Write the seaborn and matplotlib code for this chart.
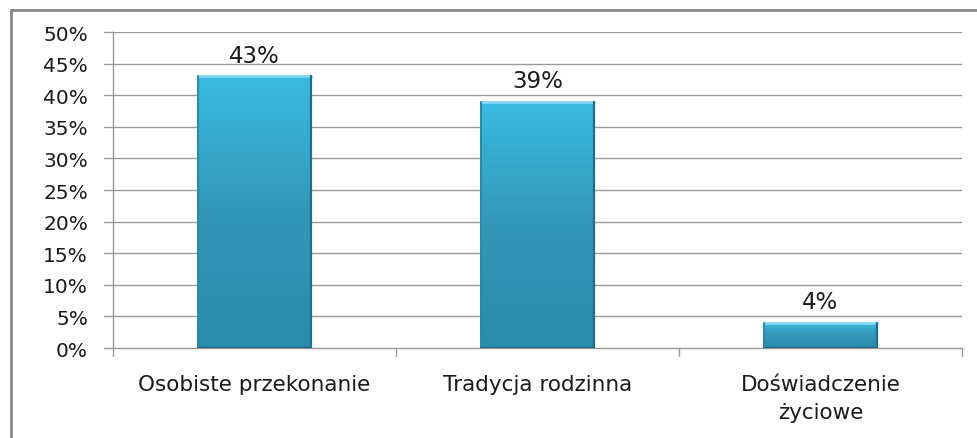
import numpy as np
import matplotlib
matplotlib.use("Agg")
import matplotlib.pyplot as plt
import seaborn as sns
import pandas as pd
from matplotlib.colors import LinearSegmentedColormap
from matplotlib.lines import Line2D

categories = ["Osobiste przekonanie", "Tradycja rodzinna", "Doświadczenie\nżyciowe"]
values = [43, 39, 4]
value_labels = ["43%", "39%", "4%"]
y_ticks = [0, 5, 10, 15, 20, 25, 30, 35, 40, 45, 50]
y_tick_labels = [f"{t}%" for t in y_ticks]

sns.set_style("white")
plt.rcParams["font.family"] = ["DejaVu Sans"]

df = pd.DataFrame({"kategoria": categories, "procent": values})

fig = plt.figure(figsize=(9.78, 4.39), dpi=100)
ax = fig.add_axes([0.1155, 0.205, 0.868, 0.7198])

sns.barplot(data=df, x="kategoria", y="procent", ax=ax, width=0.40,
            color="#36B0D6", edgecolor="none", saturation=1)

ax.set_xlim(-0.5, 2.5)
ax.set_ylim(0, 50)

# vertical gradient fill inside each bar
cmap = LinearSegmentedColormap.from_list("bar", ["#2A8CAB", "#3397B8", "#3ABBE2"])
grad = np.linspace(0, 1, 256).reshape(-1, 1)
for patch, label in zip(ax.patches, value_labels):
    x0, y0 = patch.get_x(), patch.get_y()
    w, h = patch.get_width(), patch.get_height()
    patch.set_facecolor("none")
    im = ax.imshow(grad, extent=[x0, x0 + w, y0, y0 + h], origin="lower",
                   cmap=cmap, aspect="auto", zorder=3)
    im.set_clip_path(patch)
    # bevel edges: light top, darker sides and bottom
    ax.add_line(Line2D([x0, x0 + w], [y0 + h, y0 + h], color="#7ED6F0", lw=2.0, zorder=4))
    ax.add_line(Line2D([x0 + w, x0 + w], [y0, y0 + h], color="#1F6F88", lw=1.6, zorder=4))
    ax.add_line(Line2D([x0, x0], [y0, y0 + h], color="#2B87A4", lw=1.4, zorder=4))
    ax.add_line(Line2D([x0, x0 + w], [y0, y0], color="#1D6680", lw=1.6, zorder=4))
    ax.annotate(label, (x0 + w / 2, y0 + h), xytext=(0, 7), textcoords="offset points",
                ha="center", va="bottom", fontsize=16.5, color="#1a1a1a", zorder=5)

ax.set_yticks(y_ticks)
ax.set_yticklabels(y_tick_labels, fontsize=14.5, color="#1a1a1a")
ax.set_xticks([0, 1, 2])
ax.set_xticklabels(categories, fontsize=15.5, color="#1a1a1a", linespacing=1.45)
ax.tick_params(axis="x", length=0, pad=19)
ax.tick_params(axis="y", length=0, pad=18)

ax.set_xlabel("")
ax.set_ylabel("")

# horizontal gridlines and tick marks
for t in y_ticks[1:]:
    ax.axhline(t, color="#999999", lw=1.0, zorder=1)
for t in y_ticks:
    ax.add_line(Line2D([-0.5 - 0.032, -0.5], [t, t], color="#999999", lw=1.0,
                       clip_on=False, zorder=1))
for b in [-0.5, 0.5, 1.5, 2.5]:
    ax.add_line(Line2D([b, b], [0, -1.2], color="#999999", lw=1.0,
                       clip_on=False, zorder=1))

for s in ["top", "right"]:
    ax.spines[s].set_visible(False)
for s in ["left", "bottom"]:
    ax.spines[s].set_visible(True)
    ax.spines[s].set_color("#999999")
    ax.spines[s].set_linewidth(1.0)

# outer chart frame
fig.add_artist(Line2D([10.5 / 978, 10.5 / 978], [0, 1 - 10.5 / 439], color="#888888",
                      lw=2.0, transform=fig.transFigure))
fig.add_artist(Line2D([10.5 / 978, 1], [1 - 10.5 / 439, 1 - 10.5 / 439], color="#888888",
                      lw=2.0, transform=fig.transFigure))

fig.savefig("out.png", dpi=100, facecolor="white")
